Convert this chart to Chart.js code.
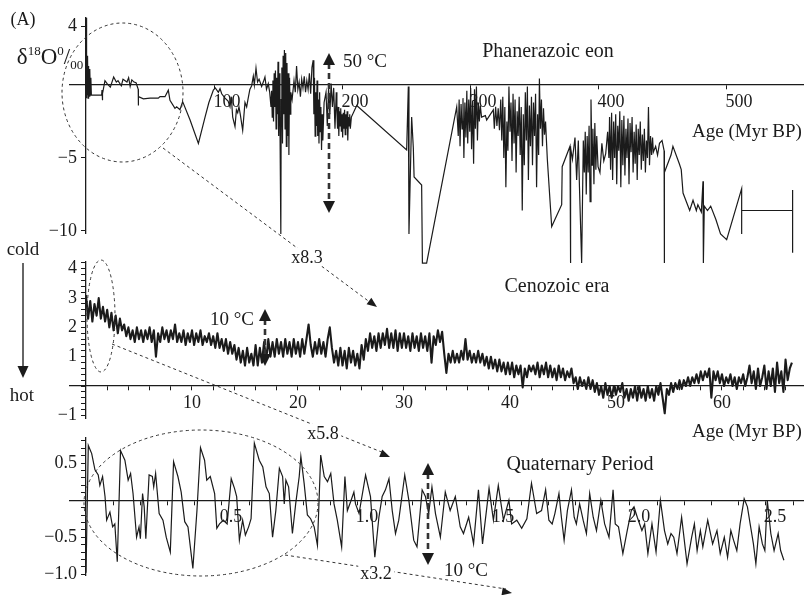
<!DOCTYPE html>
<html>
<head>
<meta charset="utf-8">
<script src="https://cdn.jsdelivr.net/npm/chart.js@4.4.1/dist/chart.umd.min.js"></script>
<style>
  body { margin: 0; background: #fff; }
  #wrap { position: relative; width: 804px; height: 595px; overflow: hidden;
          font-family: "Liberation Serif", "DejaVu Serif", serif; color: #1b1b1b; }
  canvas { position: absolute; left: 0; top: 0; }
  .lbl { position: absolute; transform: translate(-50%, -50%); white-space: nowrap;
         font-size: 19px; line-height: 1; }
  .ttl { font-size: 20px; }
  .zoom { background: #fff; padding: 0 2px; font-size: 18px; }
  .iso sup, .iso sub { font-size: 13px; line-height: 0; }
</style>
</head>
<body>
<div id="wrap">
  <canvas id="phan" width="804" height="595"></canvas>
  <canvas id="ceno" width="804" height="595"></canvas>
  <canvas id="quat" width="804" height="595"></canvas>

  <div class="lbl" style="left:23px;top:19px;font-size:18px">(A)</div>
  <div class="lbl iso" style="left:50px;top:56px;font-size:23px">&delta;<sup>18</sup>O<sup>0</sup>/<sub>00</sub></div>
  <div class="lbl ttl" style="left:548px;top:50px">Phanerazoic eon</div>
  <div class="lbl" style="left:747px;top:130px">Age (Myr BP)</div>
  <div class="lbl" style="left:365px;top:60px">50 °C</div>
  <div class="lbl zoom" style="left:307px;top:257px">x8.3</div>

  <div class="lbl" style="left:23px;top:248px">cold</div>
  <div class="lbl" style="left:22px;top:394px">hot</div>
  <div class="lbl ttl" style="left:557px;top:285px">Cenozoic era</div>
  <div class="lbl" style="left:232px;top:318px">10 °C</div>
  <div class="lbl" style="left:747px;top:430px">Age (Myr BP)</div>
  <div class="lbl zoom" style="left:323px;top:433px">x5.8</div>

  <div class="lbl ttl" style="left:580px;top:463px">Quaternary Period</div>
  <div class="lbl" style="left:466px;top:569px">10 °C</div>
  <div class="lbl zoom" style="left:376px;top:573px">x3.2</div>
</div>

<script>
// Phanerozoic eon: age (Myr BP) and delta-18O (per mil)
const phanAge = [
  0, 0.15, 0.3, 0.45, 0.6, 0.75, 0.9, 1.1, 1.3, 1.6, 1.9, 2.2, 2.5, 2.8, 3.1, 3.4, 3.8, 4.2,
  12.2, 12.5, 12.8, 13.0, 14.8, 16.5, 19.0, 21.6, 23.7, 25.0, 27.6, 28.9, 32.0, 33.3, 34.5, 35.8, 37.5, 39.1, 40.8,
  40.9, 41.0, 44.8, 50.0, 56.5, 57.8, 61.7, 64.3, 65.6, 69.5, 70.8, 73.4, 75.5, 81.3, 87.8, 93.0, 96.0, 99.5, 101.0, 103.4, 104.7,
  106, 108.6, 111, 112.5, 113.5, 114.6, 116.4, 117.5, 118.5, 119.5, 120.5, 122.4, 124.2, 125.5, 126.5, 128, 129.4, 130.7, 131.5, 132.8, 134, 135.2, 137.2, 138.5, 139.8, 141, 142.4, 143.5,
  144.5, 145, 145.5, 146, 146.5, 147, 147.5, 148, 148.5, 149, 149.5, 150, 150.5, 151, 151.5, 152.2, 152.5, 153, 153.5, 154, 154.5, 155, 155.5, 156, 156.5, 157, 157.5, 158, 158.5, 159, 159.5, 160,
  161, 162.5, 163.5, 164.5, 165.5, 166.5, 167.5, 168.5, 169.5, 170.5, 171.5, 172.5, 173.5, 174.5, 175.5, 176.5,
  177.5, 178, 178.5, 179, 179.5, 180, 180.5, 181, 181.5, 182, 182.5, 183, 183.5, 184, 184.5, 185,
  186, 187.5, 188.5, 189.5, 190.5, 191.5, 192.5, 193.5, 194.5, 195.5,
  196, 196.5, 197, 197.5, 198, 198.5, 199, 199.5, 200, 200.5, 201, 201.5, 202, 202.5, 203, 203.5, 204, 204.5, 205, 205.5, 206, 206.5, 207.3,
  211.5, 250.5, 251.8, 252.3, 254.4, 255.7, 256.3, 262.2, 262.8, 266.1, 289.6,
  290.8, 291.5, 292.2, 293, 293.8, 294.5, 295.2, 296, 296.8, 297.5, 298.2, 299, 299.8, 300.5, 301.2, 302, 302.8, 303.5, 304.2, 305, 305.8, 306.5, 307.3, 308, 309, 312, 313, 316, 318.2, 319, 320, 321, 322, 323,
  324, 324.8, 325.6, 326.4, 327.2, 328, 328.8, 329.6, 330.4, 331.2, 332, 332.8, 333.6, 334.4, 335.2, 336, 336.8, 337.6, 338.4, 339.2, 340, 340.8, 341.6, 342.4, 343.2, 344, 344.8, 345.6, 346.4, 347.2, 348, 348.8, 349.6, 350.4, 351.2, 352, 352.8, 353.6, 354.2, 355, 355.8, 356.6, 357.4, 358.2, 359,
  360.4, 363.8, 371.6, 372, 378.1, 378.3, 378.8, 380, 382, 383.3, 384.6, 385.5, 387.2, 388.5,
  389.3, 390, 390.8, 391.5, 392.3, 393, 393.8, 394.5, 395.3, 396, 396.8, 397.5, 398.3, 399,
  400, 401.5, 403, 404.5, 406, 407.5, 408.5,
  409, 409.8, 410.6, 411.4, 412.2, 413, 413.8, 414.6, 415.4, 416.2, 417, 417.8, 418.6, 419.4, 420.2, 421, 421.8, 422.6, 423.4, 424.2, 425, 425.8, 426.6, 427.4, 428.2, 429, 429.8, 430.6, 431.4, 432.2, 433, 433.8, 434.6, 435.4, 436.2, 437, 437.8, 438.6, 439.4, 440.2, 441, 441.8, 442.6,
  443.2, 445, 446.5, 448, 450, 451.6, 451.7, 452, 457, 458.5, 463.5, 465, 466.4, 469, 471.6, 474.2, 476.8, 478, 480.7, 482, 482.3, 483, 485.5, 488, 492, 495.7, 500.5, 512.2, 512.2, 512.2, 552, 552, 552
];
const phanD18O = [
  4.6, -0.9, 4.2, -0.6, 3.0, -0.8, 1.5, -0.7, 2.0, -0.9, 1.3, -0.6, 0.9, -0.8, 1.1, -0.7, 0.5, -0.7,
  -0.7, -0.35, -1.05, -0.6, 0.3, 0.1, -0.15, 0.55, 0.2, 0.3, -0.05, 0.4, 0.2, 0.5, -0.1, 0.35, 0.2, 0.15, -0.3,
  -1.4, -0.8, -0.95, -0.9, -0.9, -0.8, -0.8, -0.35, -1.05, -1.6, -1.5, -1.7, -1.14, -2.4, -4.0, -2.2, -1.2, -0.34, -0.2, -0.5, -0.25,
  -0.6, -0.9, -1.1, -1.5, -0.8, -2.2, -2.85, -1.7, -1.9, -1.5, -2.0, -3.1, -1.2, -1.5, -1.0, -0.3, -0.05, 0.6, 0.0, 1.15, 0.2, 0.4, -0.1, 0.2, 0.55, -0.3, 0.1, -0.5,
  -1.5, -0.4, -2.2, 0.3, -2.5, 0.8, -1.5, 1.0, -3.0, 0.5, -2.0, 1.6, -3.5, 0.8, -2.5, -10.2, -1.0, 1.2, -4.0, 2.0, -2.0, 2.4, -3.0, 2.2, -4.2, 1.5, -3.5, 0.8, -4.8, 0.5, -2.0, -0.5,
  -1.0, 0.3, -0.5, 1.3, -0.3, 0.2, -0.8, 0.4, -0.2, 0.6, -0.5, 0.3, -0.3, 0.8, -0.6, 1.2,
  1.7, -2.0, 0.5, -3.5, -0.5, -2.8, 0.3, -3.5, -1.0, -4.0, -0.5, -3.2, -1.5, -4.45, -2.0, -3.8,
  -1.2, -0.5, -2.8, -0.2, -2.0, 0.1, -1.5, -0.2, -3.0, -0.5,
  -1.8, -3.0, -1.5, -3.5, -1.8, -2.8, -1.6, -3.2, -2.0, -3.6, -1.9, -3.0, -1.7, -3.4, -2.0, -3.0, -1.8, -3.8, -2.2, -2.8, -2.0, -3.0, -2.2,
  -1.4, -4.45, -0.1, -10.2, -2.2, -4.3, -6.3, -6.85, -12.2, -12.2, -1.5,
  -3.5, -1.0, -4.2, -1.3, -3.0, -0.9, -5.0, -1.2, -3.6, -0.4, -4.0, -1.0, -3.2, -0.2, -4.4, -1.1, -5.4, -0.3, -3.0, -0.1, -3.8, -1.2, -2.5, -1.4, -2.2, -2.1, -2.4, -2.0, -1.7, -3.0, -1.5, -2.8, -1.6, -3.1,
  -1.0, -3.8, -0.8, -5.0, -1.5, -7.0, -2.5, -4.5, -0.1, -3.2, -1.2, -5.2, -0.6, -4.0, -1.0, -6.0, -1.8, -3.5, -0.8, -4.8, -1.5, -8.6, -2.0, -5.5, -0.5, -3.8, -0.1, -6.5, -1.4, -4.2, -0.8, -5.5, -1.2, -3.5, -0.6, -7.0, -2.0, -4.8, 0.45, -3.0, -1.0, -4.2, -1.6, -3.4, -2.5,
  -5.1, -9.7, -8.2, -5.6, -4.2, -12.2, -4.3, -5.1, -3.6, -6.5, -3.8, -7.0, -12.2, -3.8,
  -6.0, -3.2, -7.5, -3.5, -6.0, -2.8, -8.0, -1.0, -5.5, -3.0, -6.8, -2.6, -5.8, -3.5,
  -5.6, -6.0, -4.0, -5.2, -4.7, -3.2, -5.0,
  -2.2, -5.8, -1.9, -6.5, -2.5, -5.0, -2.0, -6.8, -2.8, -4.5, -1.8, -7.0, -2.4, -5.5, -2.1, -6.2, -3.0, -5.0, -2.3, -6.8, -2.6, -4.6, -2.2, -6.0, -3.2, -5.4, -2.7, -6.5, -3.0, -4.8, -2.5, -5.8, -3.4, -5.2, -3.0, -6.0, -3.8, -5.0, -1.5, -5.5, -3.5, -4.8, -3.6,
  -4.6, -4.2, -4.8, -4.0, -3.8, -4.5, -12.2, -6.0, -4.8, -4.2, -5.4, -5.8, -7.4, -8.0, -8.6, -7.9, -8.6, -8.2, -8.7, -6.6, -12.2, -8.3, -8.6, -8.3, -9.2, -10.2, -10.6, -7.1, -10.2, -8.6, -8.6, -7.2, -11.5
];

// Cenozoic era: one reading every 0.2 Myr from 0 Myr BP
const cenoStep = 0.2;
const cenoD18O = [
  3.1, 2.3, 2.9, 2.2, 2.8, 2.4, 3.0, 2.3, 2.7, 2.2,
  2.6, 2.0, 2.5, 1.9, 2.4, 1.8, 2.3, 1.9, 2.1, 1.7,
  2.0, 1.6, 1.9, 1.5, 2.0, 1.6, 1.9, 1.5, 1.9, 1.6,
  2.0, 1.5, 1.9, 1.0, 1.8, 1.5, 2.0, 1.6, 1.9, 1.5,
  1.9, 1.6, 2.1, 1.5, 1.8, 1.5, 1.9, 1.4, 1.8, 1.5,
  1.9, 1.4, 1.8, 1.5, 1.9, 1.4, 1.7, 1.5, 1.8, 1.4,
  1.7, 1.3, 1.8, 1.3, 1.6, 1.2, 1.6, 1.1, 1.5, 1.1,
  1.4, 0.9, 1.3, 0.8, 1.2, 0.7, 1.3, 0.8, 1.1, 0.7,
  1.4, 0.7, 1.3, 0.8, 1.5, 0.9, 1.6, 1.0, 1.5, 1.0,
  1.6, 1.1, 1.5, 1.0, 1.6, 1.1, 1.5, 1.0, 1.6, 1.1,
  1.5, 1.0, 1.6, 1.1, 1.6, 2.1, 1.4, 1.0, 1.5, 1.1,
  1.6, 1.1, 1.5, 1.0, 1.6, 2.0, 1.3, 0.8, 1.2, 0.7,
  1.3, 0.7, 1.2, 0.6, 1.3, 0.8, 1.2, 0.7, 1.1, 0.6,
  1.4, 0.9, 1.6, 1.2, 1.8, 1.3, 1.7, 1.2, 1.8, 1.3,
  1.8, 1.4, 1.95, 1.3, 1.8, 1.3, 1.9, 1.2, 1.8, 1.3,
  1.8, 1.3, 1.7, 1.2, 1.8, 1.3, 1.7, 1.2, 1.8, 1.3,
  1.7, 1.2, 1.8, 0.8, 1.7, 1.4, 1.9, 1.5, 1.85, 1.1,
  0.45, 1.1, 0.8, 1.2, 0.8, 1.1, 0.8, 1.2, 0.9, 1.6,
  0.9, 1.2, 0.8, 1.1, 0.8, 1.2, 0.8, 1.1, 0.7, 1.0,
  0.6, 1.0, 0.6, 0.9, 0.5, 0.9, 0.5, 0.8, 0.4, 0.8,
  0.4, 0.8, 0.3, 0.7, 0.4, 0.7, -0.05, 0.6, 0.3, 0.7,
  0.5, 0.7, 0.4, 0.8, 0.3, 0.7, 0.4, 0.8, 0.3, 0.7,
  0.3, 0.6, 0.2, 0.7, 0.3, 0.6, 0.2, 0.5, 0.3, 0.6,
  0.1, 0.3, -0.1, 0.3, 0.0, 0.2, -0.1, 0.3, -0.1, 0.2,
  -0.2, 0.1, -0.3, 0.0, -0.4, 0.1, -0.3, 0.0, -0.4, 0.0,
  -0.3, 0.0, -0.2, 0.1, -0.4, -0.1, -0.5, -0.1, -0.4, 0.0,
  -0.5, 0.0, -0.4, -0.1, -0.5, 0.0, -0.4, -0.1, -0.5, 0.0,
  -0.3, 0.1, -0.4, -0.93, -0.1, -0.3, 0.1, -0.2, 0.1, -0.1,
  0.2, -0.1, 0.2, 0.0, 0.3, 0.0, 0.3, 0.1, 0.4, 0.1,
  0.5, 0.2, 0.5, 0.3, 0.6, -0.4, 0.5, 0.2, 0.5, 0.1,
  0.4, 0.0, 0.3, 0.1, 0.4, 0.0, 0.3, -0.1, 0.3, 0.1,
  0.4, 0.0, 0.3, 0.7, 0.1, 0.5, -0.1, 0.6, 0.0, 0.3,
  0.7, -0.1, 0.5, 0.0, 0.6, -0.2, 0.8, 0.1, 0.5, -0.2,
  0.9, 0.2, 0.6, 0.8
];

// Quaternary period: age (Myr BP) and delta-18O anomaly
const quatAge = [
  0, 0.0085, 0.021, 0.033, 0.045, 0.051, 0.061, 0.070, 0.076, 0.088, 0.098, 0.106, 0.115, 0.127, 0.143, 0.155, 0.164, 0.173, 0.186, 0.195,
  0.200, 0.208, 0.214, 0.220, 0.232, 0.244, 0.249, 0.256, 0.269, 0.283, 0.295, 0.310, 0.322, 0.338, 0.350, 0.363, 0.375, 0.393, 0.408, 0.421,
  0.436, 0.444, 0.457, 0.473, 0.481, 0.491, 0.505, 0.519, 0.534, 0.546, 0.554, 0.564, 0.576, 0.586, 0.598, 0.607, 0.619, 0.637, 0.650, 0.662, 0.674,
  0.686, 0.698, 0.711, 0.723, 0.729, 0.735, 0.745, 0.759, 0.771, 0.784, 0.790, 0.802, 0.814, 0.826, 0.839, 0.851, 0.863, 0.876, 0.888, 0.900,
  0.912, 0.924, 0.940, 0.952, 0.961, 0.973, 0.985, 0.991, 1.004, 1.028, 1.046, 1.062, 1.077, 1.089, 1.101, 1.114, 1.126, 1.138, 1.150, 1.172,
  1.187, 1.205, 1.217, 1.236, 1.248, 1.260, 1.272, 1.285, 1.303, 1.321, 1.339, 1.358, 1.376, 1.388, 1.407, 1.425, 1.443, 1.458, 1.482, 1.498,
  1.516, 1.535, 1.555, 1.565, 1.584, 1.602, 1.621, 1.638, 1.657,
  1.675, 1.690, 1.702, 1.714, 1.724, 1.739, 1.748, 1.758, 1.770, 1.785, 1.795, 1.803, 1.815, 1.828, 1.840, 1.852, 1.865, 1.877, 1.893, 1.907,
  1.923, 1.938, 1.946, 1.958, 1.974, 1.990, 2.005, 2.015, 2.027, 2.044, 2.054, 2.066, 2.081, 2.096, 2.112, 2.127, 2.139, 2.151, 2.161, 2.173,
  2.190, 2.210, 2.227, 2.237, 2.247, 2.259, 2.268, 2.286, 2.304, 2.320, 2.332, 2.347, 2.359, 2.371, 2.381, 2.393, 2.405, 2.420, 2.432, 2.442,
  2.454, 2.463, 2.475, 2.487, 2.496, 2.505, 2.518, 2.530, 2.545, 2.554, 2.566
];
const quatD18O = [
  -0.98, 0.74, 0.63, 0.41, 0.34, 0.20, 0.32, 0.05, -0.27, -0.16, -0.36, -0.32, -0.83, 0.67, 0.54, 0.27, 0.36, 0.09, -0.50, -0.36,
  -0.52, 0.09, -0.09, -0.52, 0.34, 0.32, 0.18, 0.36, -0.18, -0.27, -0.50, -0.70, 0.52, 0.32, 0.11, -0.29, -0.36, -0.92, -0.14, 0.71,
  0.54, 0.27, 0.32, 0.09, -0.38, -0.32, -0.27, -0.32, 0.29, 0.16, 0.05, -0.54, -0.27, -0.47, -0.36, -0.25, 0.77, 0.54, 0.45, 0.18, 0.09,
  -0.50, -0.14, 0.43, 0.32, -0.05, 0.27, 0.18, -0.45, -0.05, 0.32, 0.59, 0.23, -0.20, -0.25, -0.36, -0.61, 0.61, 0.32, 0.25, 0.36,
  -0.05, -0.27, -0.63, 0.32, -0.14, -0.02, 0.11, -0.05, -0.18, 0.34, 0.05, -0.77, -0.23, 0.05, 0.14, 0.29, -0.14, -0.45, -0.27, 0.34,
  0.00, -0.54, -0.63, 0.14, 0.05, -0.18, 0.18, -0.18, -0.50, 0.11, -0.14, 0.05, -0.36, -0.45, -0.23, -0.59, 0.14, -0.59, 0.16, -0.27,
  0.20, -0.27, 0.00, -0.32, -0.27, -0.38, -0.25, 0.23, -0.18,
  -0.14, 0.14, -0.27, -0.32, -0.18, 0.09, -0.23, -0.54, -0.14, 0.14, -0.23, -0.32, -0.05, -0.27, -0.45, 0.09, -0.23, -0.41, 0.00, -0.32,
  -0.50, 0.14, -0.32, -0.36, -0.72, -0.41, -0.14, -0.09, -0.23, -0.41, -0.32, -0.72, -0.32, -0.70, 0.00, -0.41, -0.59, -0.45, -0.50, -0.72,
  -0.23, -0.86, -0.50, -0.32, -0.68, -0.41, -0.63, -0.27, -0.59, -0.41, -0.72, -0.50, -0.77, -0.41, -0.54, -0.68, -0.32, 0.02, -0.09, -0.32,
  -0.59, -0.86, -0.36, -0.59, -0.68, 0.00, -0.45, -0.68, -0.45, -0.68, -0.81
];

// tick values
const phanXTicks = [100, 200, 300, 400, 500];
const phanYTicks = [4, -5, -10];
const cenoXLabels = [10, 20, 30, 40, 50, 60];
const cenoYLabels = [4, 3, 2, 1, -1];
const quatXLabels = [0.5, 1.0, 1.5, 2.0, 2.5];
const quatYLabels = [0.5, -0.5, -1.0];

function steps(from, to, step) {
  const out = [];
  for (let v = from; v <= to + 1e-9; v += step) out.push(Math.round(v * 100) / 100);
  return out;
}
const minus = s => s.replace('-', '\u2212');
const has = (arr, v) => arr.some(a => Math.abs(a - v) < 1e-6);
const gap = '\u2002';   // keeps y labels clear of the axis line

const ink = '#1b1b1b';
const tickFont = { family: '"Liberation Serif", serif', size: 18 };

function makePanel(id, pts, o) {
  return new Chart(document.getElementById(id), {
    type: 'line',
    data: { datasets: [{ data: pts, borderColor: ink, borderWidth: o.lw, pointRadius: 0,
                         borderJoinStyle: o.join, tension: 0, clip: false, fill: false }] },
    options: {
      responsive: false, animation: false, events: [],
      layout: { padding: o.pad },
      plugins: { legend: { display: false }, tooltip: { enabled: false } },
      scales: {
        x: {
          type: 'linear', min: o.x[0], max: o.x[1], position: { y: 0 }, z: 1,
          grid: { drawOnChartArea: false, tickLength: 4, color: ink },
          border: { color: ink, width: 1.3 },
          ticks: { autoSkip: false, maxRotation: 0, color: ink, font: tickFont,
                   labelOffset: o.xOff, padding: 2, callback: v => o.xLab(v),
                   showLabelBackdrop: o.backdrop, backdropColor: '#fff',
                   backdropPadding: { left: 1, right: 1, top: 0, bottom: 0 } },
          afterBuildTicks: s => { s.ticks = o.xTicks.map(v => ({ value: v })); }
        },
        y: {
          type: 'linear', min: o.y[0], max: o.y[1], position: { x: 0 }, z: 1,
          grid: { drawOnChartArea: false, tickLength: 4, color: ink },
          border: { color: ink, width: 1.3 },
          ticks: { autoSkip: false, color: ink, font: tickFont, padding: 2,
                   callback: v => o.yLab(v) },
          afterBuildTicks: s => { s.ticks = o.yTicks.map(v => ({ value: v })); }
        }
      }
    },
    plugins: o.extra ? [o.extra] : []
  });
}

// dashed ellipses, zoom arrows and temperature arrows
function head(ctx, x1, y1, x2, y2, len, wid) {
  const a = Math.atan2(y2 - y1, x2 - x1);
  ctx.save();
  ctx.setLineDash([]);
  ctx.beginPath();
  ctx.moveTo(x2, y2);
  ctx.lineTo(x2 - len * Math.cos(a) + wid / 2 * Math.sin(a), y2 - len * Math.sin(a) - wid / 2 * Math.cos(a));
  ctx.lineTo(x2 - len * Math.cos(a) - wid / 2 * Math.sin(a), y2 - len * Math.sin(a) + wid / 2 * Math.cos(a));
  ctx.closePath();
  ctx.fill();
  ctx.restore();
}
const decor = {
  id: 'decor',
  afterDraw(chart) {
    const ctx = chart.ctx;
    ctx.save();
    ctx.strokeStyle = '#333';
    ctx.fillStyle = ink;
    ctx.lineWidth = 1;
    ctx.setLineDash([3, 3]);
    [[122.5, 92.5, 60.5, 69.5], [101, 316, 14, 56], [201, 503, 117, 73]].forEach(e => {
      ctx.beginPath();
      ctx.ellipse(e[0], e[1], e[2], e[3], 0, 0, Math.PI * 2);
      ctx.stroke();
    });
    [[163, 148, 377, 307], [112, 344, 390, 457], [285, 555, 512, 593]].forEach(l => {
      ctx.beginPath();
      ctx.moveTo(l[0], l[1]);
      ctx.lineTo(l[2] - 6, l[3] - 4);
      ctx.stroke();
      head(ctx, l[0], l[1], l[2], l[3], 10, 8);
    });
    // temperature scale arrows
    ctx.lineWidth = 2.6;
    ctx.setLineDash([6, 4]);
    [[329, 53, 213], [265, 309, 366], [428, 463, 565]].forEach(a => {
      ctx.beginPath();
      ctx.moveTo(a[0], a[1] + 10);
      ctx.lineTo(a[0], a[2] - 10);
      ctx.stroke();
      head(ctx, a[0], a[2] - 1, a[0], a[1], 12, 12);
      head(ctx, a[0], a[1] + 1, a[0], a[2], 12, 12);
    });
    // cold -> hot arrow
    ctx.setLineDash([]);
    ctx.lineWidth = 1.5;
    ctx.beginPath();
    ctx.moveTo(23, 263);
    ctx.lineTo(23, 368);
    ctx.stroke();
    head(ctx, 23, 263, 23, 378, 12, 11);
    ctx.restore();
  }
};

makePanel('phan', phanAge.map((a, i) => ({ x: a, y: phanD18O[i] })), {
  pad: { left: 70, right: 0, top: 18, bottom: 595 - 233 }, lw: 1.2, join: 'miter', backdrop: true,
  x: [-12.5, 560.9], y: [-10.14, 4.59],
  xTicks: phanXTicks, xOff: 13, xLab: v => String(v),
  yTicks: phanYTicks, yLab: v => minus(String(v)) + gap
});

makePanel('ceno', cenoD18O.map((v, i) => ({ x: i * cenoStep, y: v })), {
  pad: { left: 70, right: 0, top: 262, bottom: 595 - 418 }, lw: 2.1, join: 'round', backdrop: false,
  x: [-1.51, 67.74], y: [-1.09, 4.23],
  xTicks: steps(2, 66, 2), xOff: 0, xLab: v => has(cenoXLabels, v) ? String(v) : '',
  yTicks: steps(-1, 4.2, 0.2), yLab: v => has(cenoYLabels, v) ? minus(String(Math.round(v))) + gap : ''
});

makePanel('quat', quatAge.map((a, i) => ({ x: a, y: quatD18O[i] })), {
  pad: { left: 70, right: 0, top: 438, bottom: 595 - 575 }, lw: 1.2, join: 'miter', backdrop: true,
  x: [-0.0588, 2.64], y: [-1.01, 0.84],
  xTicks: steps(0.1, 2.6, 0.1), xOff: 9, xLab: v => has(quatXLabels, v) ? v.toFixed(1) : '',
  yTicks: steps(-1, 0.8, 0.1), yLab: v => has(quatYLabels, v) ? minus(v.toFixed(1)) + gap : '',
  extra: decor
});
</script>
</body>
</html>
